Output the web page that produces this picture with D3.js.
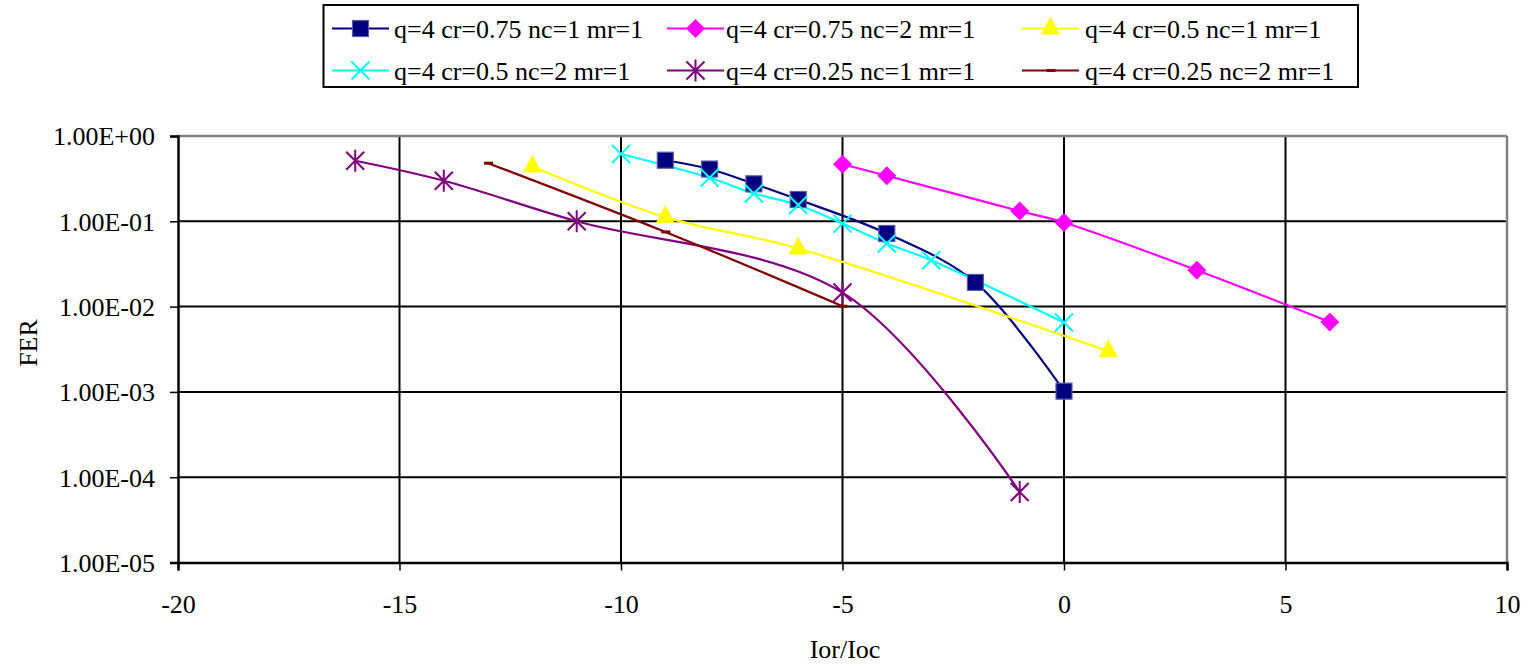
<!DOCTYPE html>
<html><head><meta charset="utf-8">
<script src="https://cdn.jsdelivr.net/npm/d3@7"></script>
<style>
html,body{margin:0;padding:0;background:#fff;}
svg text{font-family:"Liberation Serif","Tinos","Times New Roman",Times,"DejaVu Serif","Noto Serif",serif !important;fill:#000;}
</style></head>
<body>
<svg id="chart" width="1527" height="666"></svg>
<script>
// ---- data ----
const xTicks = [-20, -15, -10, -5, 0, 5, 10];
const yTicks = [1, 1e-1, 1e-2, 1e-3, 1e-4, 1e-5];
const yTickLabels = ["1.00E+00", "1.00E-01", "1.00E-02", "1.00E-03", "1.00E-04", "1.00E-05"];

const seriesNames = [
  "q=4 cr=0.75 nc=1 mr=1",
  "q=4 cr=0.75 nc=2 mr=1",
  "q=4 cr=0.5 nc=1 mr=1",
  "q=4 cr=0.5 nc=2 mr=1",
  "q=4 cr=0.25 nc=1 mr=1",
  "q=4 cr=0.25 nc=2 mr=1"
];
const seriesColors = ["#000080", "#FF00FF", "#FFFF00", "#00FFFF", "#800080", "#800000"];
const seriesMarkers = ["square", "diamond", "triangle", "x", "star", "dash"];

const s1x = [-9, -8, -7, -6, -4, -2, 0];
const s1y = [0.52, 0.41, 0.275, 0.18, 0.072, 0.0192, 0.00102];
const s2x = [-5, -4, -1, 0, 3, 6];
const s2y = [0.466, 0.342, 0.132, 0.097, 0.0267, 0.0066];
const s3x = [-12, -9, -6, 1];
const s3y = [0.44, 0.112, 0.048, 0.003];
const s4x = [-10, -8, -7, -6, -5, -4, -3, 0];
const s4y = [0.615, 0.324, 0.212, 0.155, 0.094, 0.055, 0.035, 0.0065];
const s5x = [-16, -14, -11, -5, -1];
const s5y = [0.513, 0.299, 0.1, 0.0146, 0.000067];
const s6x = [-13, -9, -5];
const s6y = [0.48, 0.075, 0.0101];

const seriesX = [s1x, s2x, s3x, s4x, s5x, s6x];
const seriesY = [s1y, s2y, s3y, s4y, s5y, s6y];

// ---- layout ----
const FONT = '"Liberation Serif","Tinos","Times New Roman",Times,"DejaVu Serif","Noto Serif",serif';
const FS = "26px";
const svg = d3.select("#chart").attr("font-family", FONT);
const pLeft = 178, pRight = 1507, pTop = 136, pBottom = 562.5;
const x = d3.scaleLinear().domain([-20, 10]).range([pLeft, pRight]);
const y = d3.scaleLog().domain([1e-5, 1]).range([pBottom, pTop]);

// gridlines
const g = svg.append("g");
g.selectAll(".hg").data(yTicks.slice(1, 5)).enter().append("line")
  .attr("x1", pLeft).attr("x2", pRight).attr("y1", d => y(d)).attr("y2", d => y(d))
  .attr("stroke", "#000").attr("stroke-width", 2);
g.selectAll(".vg").data(xTicks.slice(1, 6)).enter().append("line")
  .attr("x1", d => x(d)).attr("x2", d => x(d)).attr("y1", pTop).attr("y2", pBottom)
  .attr("stroke", "#000").attr("stroke-width", 2);
// plot border top/right gray
g.append("line").attr("x1", pLeft).attr("x2", pRight).attr("y1", pTop).attr("y2", pTop)
  .attr("stroke", "#808080").attr("stroke-width", 2.5);
g.append("line").attr("x1", pRight).attr("x2", pRight).attr("y1", pTop).attr("y2", pBottom)
  .attr("stroke", "#808080").attr("stroke-width", 2.5);

// axes
const xAxis = d3.axisBottom(x).tickValues(xTicks).tickSize(8).tickFormat(d => String(d));
const yAxis = d3.axisLeft(y).tickValues(yTicks).tickSize(8).tickFormat((d, i) => yTickLabels[i]);
const gx = svg.append("g").attr("transform", `translate(0,${pBottom})`).call(xAxis);
const gy = svg.append("g").attr("transform", `translate(${pLeft},0)`).call(yAxis);
[gx, gy].forEach(a => {
  a.attr("font-family", FONT).attr("font-size", 26);
  a.select(".domain").attr("stroke", "#000").attr("stroke-width", 2.5);
  a.selectAll(".tick line").attr("stroke", "#000").attr("stroke-width", 1.5);
  a.selectAll(".tick text").style("font-size", FS).attr("fill", "#000");
});
gx.selectAll(".tick text").attr("dy", null).attr("y", 50);
gy.selectAll(".tick text").attr("x", -23).attr("dy", "0.34em");

// axis titles
svg.append("text").attr("x", 845).attr("y", 658).attr("text-anchor", "middle")
  .style("font-size", FS).text("Ior/Ioc");
svg.append("text").attr("transform", "translate(37,343) rotate(-90)").attr("text-anchor", "middle")
  .style("font-size", FS).text("FER");

// markers
function drawMarker(sel, type, color) {
  if (type === "square") {
    sel.append("rect").attr("x", -8).attr("y", -8).attr("width", 16).attr("height", 16)
      .attr("fill", color).attr("stroke", "#5a5aa8").attr("stroke-width", 1.2);
  } else if (type === "diamond") {
    sel.append("path").attr("d", "M0,-9.5L9.5,0L0,9.5L-9.5,0Z").attr("fill", color);
  } else if (type === "triangle") {
    sel.append("path").attr("d", "M0,-12L9.5,6L-9.5,6Z").attr("fill", color);
  } else if (type === "x") {
    sel.append("path").attr("d", "M-9,-9L9,9M-9,9L9,-9").attr("stroke", color).attr("stroke-width", 2).attr("fill", "none");
  } else if (type === "star") {
    sel.append("path").attr("d", "M-9,-9L9,9M-9,9L9,-9M0,-11L0,11").attr("stroke", color).attr("stroke-width", 2).attr("fill", "none");
  } else if (type === "dash") {
    sel.append("path").attr("d", "M-4,0L5,0").attr("stroke", color).attr("stroke-width", 3).attr("fill", "none");
  }
}

const line = d3.line().x(d => x(d[0])).y(d => y(d[1])).curve(d3.curveCatmullRom.alpha(0.5));
const plot = svg.append("g");
seriesNames.forEach((name, i) => {
  const pts = seriesX[i].map((v, j) => [v, seriesY[i][j]]);
  plot.append("path").datum(pts).attr("d", line).attr("fill", "none")
    .attr("stroke", seriesColors[i]).attr("stroke-width", 2.2);
});
seriesNames.forEach((name, i) => {
  const pts = seriesX[i].map((v, j) => [v, seriesY[i][j]]);
  pts.forEach(p => {
    const m = plot.append("g").attr("transform", `translate(${x(p[0])},${y(p[1])})`);
    drawMarker(m, seriesMarkers[i], seriesColors[i]);
  });
});

// legend
const lg = svg.append("g");
lg.append("rect").attr("x", 323.5).attr("y", 5).attr("width", 1034.5).attr("height", 82)
  .attr("fill", "#fff").attr("stroke", "#000").attr("stroke-width", 2);
const colLineX = [332, 667, 1022];
const colTextX = [394, 726, 1085];
const rowY = [28.5, 70.5];
seriesNames.forEach((name, i) => {
  const c = i % 3, r = Math.floor(i / 3);
  const lx = colLineX[c], ly = rowY[r];
  lg.append("line").attr("x1", lx).attr("x2", lx + 57).attr("y1", ly).attr("y2", ly)
    .attr("stroke", seriesColors[i]).attr("stroke-width", 2.2);
  const m = lg.append("g").attr("transform", `translate(${lx + 28.5},${ly})`);
  drawMarker(m, seriesMarkers[i], seriesColors[i]);
  lg.append("text").attr("x", colTextX[c]).attr("y", ly).attr("dy", "0.35em")
    .style("font-size", FS).text(name);
});
</script>
</body></html>
